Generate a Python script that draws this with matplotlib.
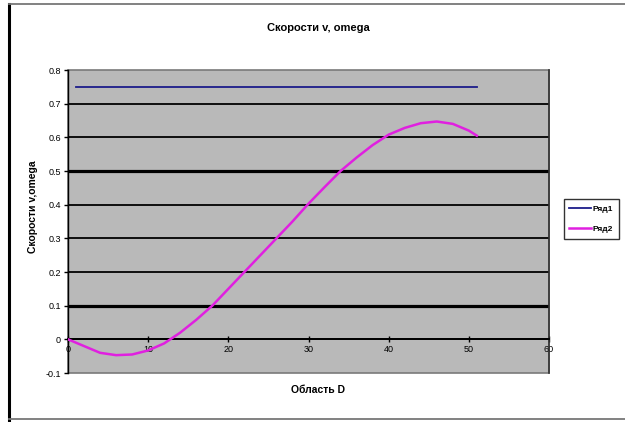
import matplotlib
matplotlib.use('Agg')
import matplotlib.pyplot as plt
from matplotlib.lines import Line2D

# data
x_v = [1, 51]
v = [0.75, 0.75]

x_omega = [0, 2, 4, 6, 8, 10, 12, 14, 16, 18, 20, 22, 24, 26, 28, 30, 32, 34,
           36, 38, 40, 42, 44, 46, 48, 50, 51]
omega = [0.0, -0.02, -0.04, -0.047, -0.045, -0.033, -0.012, 0.02, 0.058, 0.1,
         0.15, 0.2, 0.25, 0.3, 0.35, 0.403, 0.452, 0.5, 0.54, 0.577, 0.608,
         0.628, 0.642, 0.647, 0.64, 0.62, 0.605]

series_names = ['Ряд1', 'Ряд2']
x_ticks = [0, 10, 20, 30, 40, 50, 60]
y_ticks = [-0.1, 0, 0.1, 0.2, 0.3, 0.4, 0.5, 0.6, 0.7, 0.8]
y_ticklabels = ['-0.1', '0', '0.1', '0.2', '0.3', '0.4', '0.5', '0.6', '0.7', '0.8']

plt.rcParams['font.family'] = ['Liberation Sans', 'DejaVu Sans']

fig = plt.figure(figsize=(6.25, 4.22), dpi=100)
ax = fig.add_axes([0.1088, 0.1161, 0.7696, 0.718])
ax.set_facecolor('#b9b9b9')
ax.patch.set_edgecolor('#7a7a7a')
ax.patch.set_linewidth(1.2)

l1, = ax.plot(x_v, v, color='#1c1c8a', lw=1.3, zorder=3)
l2, = ax.plot(x_omega, omega, color='#e020e0', lw=1.8, zorder=3)

ax.set_xlim(0, 60)
ax.set_ylim(-0.1, 0.8)
ax.set_xticks(x_ticks)
ax.set_yticks(y_ticks)
ax.set_yticklabels(y_ticklabels)
ax.tick_params(axis='both', labelsize=6.5, length=3, width=1, pad=2)
ax.tick_params(axis='x', direction='inout', length=4)

ax.spines['bottom'].set_position(('data', 0))
ax.spines['bottom'].set_color('black')
ax.spines['bottom'].set_linewidth(1.3)
ax.spines['left'].set_color('black')
ax.spines['left'].set_linewidth(1.0)
ax.spines['top'].set_visible(False)
ax.spines['right'].set_color('#333333')
ax.spines['right'].set_linewidth(1.2)

ax.yaxis.grid(True, color='black', lw=1.3)
ax.set_axisbelow(True)
for val, gl in zip(y_ticks, ax.get_ygridlines()):
    if abs(val - 0.5) < 1e-9 or abs(val - 0.1) < 1e-9:
        gl.set_linewidth(2.3)
    if val <= -0.1 or val >= 0.8:
        gl.set_visible(False)

fig.text(0.509, 0.933, 'Скорости v, omega', ha='center', va='center',
         fontsize=8, fontweight='bold')
fig.text(0.509, 0.077, 'Область D', ha='center', va='center',
         fontsize=7.5, fontweight='bold')
fig.text(0.053, 0.51, 'Скорости v,omega', ha='center', va='center',
         rotation=90, fontsize=7.5, fontweight='bold')

leg = fig.legend([l1, l2], series_names, loc='center',
                 bbox_to_anchor=(0.946, 0.481), fontsize=6,
                 frameon=True, fancybox=False, edgecolor='black',
                 handlelength=2.6, borderpad=0.7, labelspacing=1.5,
                 handletextpad=0.2, borderaxespad=0.3)
leg.get_frame().set_linewidth(1.0)
for t in leg.get_texts():
    t.set_fontweight('bold')

# outer chart frame
fig.add_artist(Line2D([0.015, 0.015], [0.005, 0.99], color='black', lw=2.2))
fig.add_artist(Line2D([0.015, 1.0], [0.99, 0.99], color='#777777', lw=1.3))
fig.add_artist(Line2D([0.015, 1.0], [0.006, 0.006], color='#777777', lw=1.3))

fig.savefig('out.png', dpi=100)
